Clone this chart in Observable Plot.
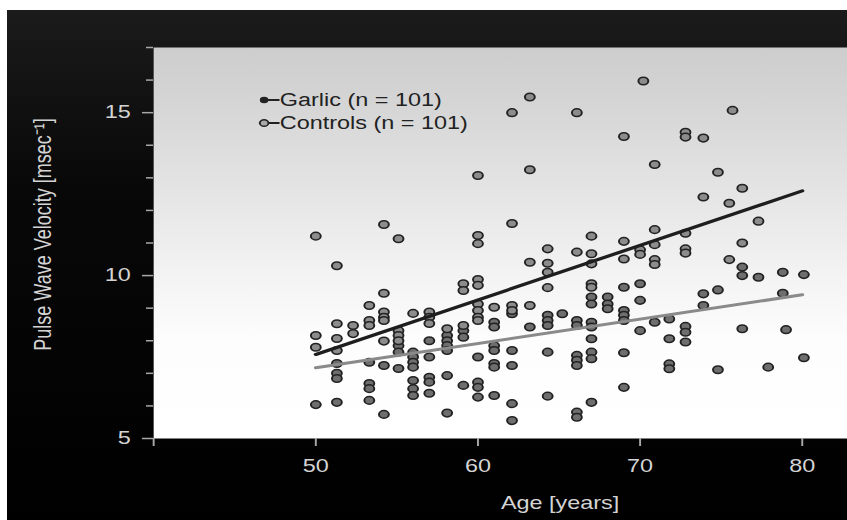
<!DOCTYPE html>
<html><head><meta charset="utf-8">
<script src="https://cdn.jsdelivr.net/npm/d3@7"></script>
<script src="https://cdn.jsdelivr.net/npm/@observablehq/plot@0.6"></script>
<style>
html,body{margin:0;padding:0;background:#fff;}
#wrap{position:relative;width:847px;height:520px;overflow:hidden;background:#fff;}
#bg{position:absolute;left:7px;top:10px;right:0;bottom:0;background:linear-gradient(#1b1b1b,#080808 35%,#000);}
#stretch{position:absolute;left:0;top:0;width:651px;height:520px;transform:scaleX(1.3011);transform-origin:0 0;}
#legend{position:absolute;left:198px;top:89px;font:18px "Liberation Sans",Arial,sans-serif;color:#222;line-height:23px;white-space:nowrap;}
#legend svg{vertical-align:middle;margin-top:-3px;}
</style></head>
<body><div id="wrap"><div id="bg"></div><div id="stretch"><div id="chart"></div><div id="legend"></div></div></div>
<script>
// Data: [age (years), pulse wave velocity (m/sec)]
const garlic = [
  [50,6.04],
  [51.3,7.3],[51.3,7.0],[51.3,6.84],[51.3,6.11],
  [53.3,7.34],[53.3,6.69],[53.3,6.53],[53.3,6.17],
  [54.2,7.24],[54.2,5.74],
  [55.1,7.85],[55.1,7.65],[55.1,7.15],
  [56,7.65],[56,7.5],[56,7.34],[56,7.19],[56,6.78],[56,6.53],[56,6.32],
  [57,8.0],[57,7.5],[57,6.88],[57,6.73],[57,6.39],
  [58.1,8.16],[58.1,8.0],[58.1,7.85],[58.1,7.7],[58.1,6.93],[58.1,5.78],
  [59.1,8.31],[59.1,8.11],[59.1,6.63],
  [60,7.5],[60,6.73],[60,6.57],[60,6.27],
  [61,8.57],[61,8.42],[61,7.85],[61,7.7],[61,7.3],[61,7.19],[61,6.32],
  [62.1,8.83],[62.1,7.7],[62.1,7.24],[62.1,6.07],[62.1,5.55],
  [63.2,8.42],
  [64.3,8.78],[64.3,8.62],[64.3,8.47],[64.3,7.65],[64.3,6.3],
  [65.2,8.83],
  [66.1,8.62],[66.1,8.47],[66.1,7.55],[66.1,7.4],[66.1,7.24],[66.1,5.81],[66.1,5.65],
  [67,9.34],[67,9.13],[67,8.57],[67,8.42],[67,8.06],[67,7.65],[67,7.45],[67,6.11],
  [68,9.34],[68,9.13],[68,8.98],
  [69,9.64],[69,8.93],[69,8.78],[69,8.62],[69,7.63],[69,6.57],
  [70,9.75],[70,9.24],[70,8.31],
  [70.9,8.57],
  [71.8,8.67],[71.8,8.06],[71.8,7.29],[71.8,7.14],
  [72.8,8.44],[72.8,8.26],[72.8,7.96],
  [73.9,9.44],[73.9,9.08],
  [74.8,9.56],[74.8,7.11],
  [76.3,10.26],[76.3,10.0],[76.3,8.37],
  [77.3,9.95],
  [77.9,7.19],
  [78.8,10.1],[78.8,9.46],
  [79,8.34],
  [80.1,10.03],[80.1,7.48]
];
const controls = [
  [50,11.21],[50,8.16],[50,7.8],
  [51.3,10.3],[51.3,8.52],[51.3,8.07],[51.3,7.7],
  [52.3,8.47],[52.3,8.22],
  [53.3,9.08],[53.3,8.62],[53.3,8.47],
  [54.2,11.57],[54.2,9.46],[54.2,8.88],[54.2,8.72],[54.2,8.62],[54.2,7.99],
  [55.1,11.13],[55.1,8.31],[55.1,8.16],[55.1,8.0],
  [56,8.84],
  [57,8.88],[57,8.72],[57,8.53],
  [58.1,8.37],
  [59.1,9.75],[59.1,9.54],[59.1,8.47],
  [60,13.07],[60,11.23],[60,10.98],[60,9.88],[60,9.7],[60,9.13],[60,8.93],[60,8.72],[60,8.62],
  [61,9.03],
  [62.1,15.0],[62.1,11.6],[62.1,9.08],[62.1,8.93],
  [63.2,15.48],[63.2,13.25],[63.2,10.41],[63.2,9.08],
  [64.3,10.82],[64.3,10.38],[64.3,10.1],[64.3,9.63],
  [66.1,15.0],[66.1,10.72],
  [67,11.21],[67,10.67],[67,10.36],[67,9.75],[67,9.64],
  [69,14.27],[69,11.05],[69,10.51],
  [70,10.79],[70,10.65],[70.2,15.97],
  [70.9,13.41],[70.9,11.41],[70.9,10.95],[70.9,10.49],[70.9,10.34],
  [72.8,14.4],[72.8,14.25],[72.8,11.3],[72.8,10.82],[72.8,10.69],
  [73.9,14.22],[73.9,12.41],
  [74.8,13.17],
  [75.5,12.22],[75.5,10.49],[75.7,15.07],
  [76.3,12.68],[76.3,11.0],
  [77.3,11.67]
];
// Regression lines (end points)
const garlicFit = [[50, 7.17], [80, 9.41]];
const controlsFit = [[50, 7.58], [80, 12.6]];
// Axes
const xTicks = [50, 60, 70, 80];
const xMinor = [40];
const yTicks = [5, 10, 15];
const yMinor = [6, 7, 8, 9, 11, 12, 13, 14, 16, 17];
const xLabel = "Age [years]";
const yLabel = "Pulse Wave Velocity [msec\u207B\u00B9]";
const legendLabels = ["Garlic (n = 101)", "Controls (n = 101)"];

const SVGNS = "http://www.w3.org/2000/svg";
function gradientDefs() {
  const defs = document.createElementNS(SVGNS, "defs");
  defs.innerHTML = `<linearGradient id="panelGrad" x1="0" y1="0" x2="0" y2="1">
    <stop offset="0" stop-color="#cdcdcd"/>
    <stop offset="0.14" stop-color="#d5d5d5"/>
    <stop offset="0.39" stop-color="#e6e6e6"/>
    <stop offset="0.58" stop-color="#f3f3f3"/>
    <stop offset="0.75" stop-color="#fdfdfd"/>
    <stop offset="1" stop-color="#ffffff"/>
  </linearGradient>`;
  return defs;
}

const ink = "#d4d4d4";
const tickInk = "#a8a8a8";

const chart = Plot.plot({
  width: 651,
  height: 520,
  marginLeft: 117.6,
  marginRight: 0,
  marginTop: 47,
  marginBottom: 82,
  x: {domain: [40, 82.8]},
  y: {domain: [5, 17]},
  style: {background: "transparent", fontSize: "18px", fontFamily: "'Liberation Sans', Arial, Helvetica, sans-serif", overflow: "visible"},
  marks: [
    gradientDefs,
    Plot.frame({fill: "url(#panelGrad)", stroke: "none"}),
    Plot.axisY(yTicks, {tickSize: 8.5, tickPadding: 9, color: ink, stroke: tickInk, strokeWidth: 1.5, label: null}),
    Plot.axisY(yMinor, {tickSize: 5.4, tickFormat: () => "", stroke: tickInk, strokeWidth: 1.5, label: null}),
    Plot.axisX(xTicks, {tickSize: 8, tickPadding: 13, color: ink, stroke: tickInk, strokeWidth: 1.5, label: null}),
    Plot.axisX(xMinor, {tickSize: 8, tickFormat: () => "", stroke: tickInk, strokeWidth: 1.5, label: null}),
    Plot.text([yLabel], {frameAnchor: "left", textAnchor: "middle", lineAnchor: "middle", rotate: -90, dx: -85, dy: -8.5, fill: ink, fontSize: 18}),
    Plot.text([xLabel], {frameAnchor: "bottom", textAnchor: "middle", lineAnchor: "middle", dx: 45.7, dy: 65, fill: ink, fontSize: 18}),
    Plot.dot(garlic, {x: d => d[0], y: d => d[1], r: 3.8, fill: "#6e6e6e", stroke: "#222", strokeWidth: 1.5}),
    Plot.dot(controls, {x: d => d[0], y: d => d[1], r: 3.8, fill: "#8c8c8c", stroke: "#222", strokeWidth: 1.5}),
    Plot.line(garlicFit, {x: d => d[0], y: d => d[1], stroke: "#8a8a8a", strokeWidth: 3}),
    Plot.line(controlsFit, {x: d => d[0], y: d => d[1], stroke: "#1e1e1e", strokeWidth: 3.2})
  ]
});
document.getElementById("chart").appendChild(chart);

// Legend
const symbols = [
  `<svg width="17" height="12" viewBox="0 0 17 12"><line x1="3" x2="17" y1="6" y2="6" stroke="#222" stroke-width="1.8"/><circle cx="5" cy="6" r="3.3" fill="#222"/></svg>`,
  `<svg width="17" height="12" viewBox="0 0 17 12"><line x1="1" x2="17" y1="6" y2="6" stroke="#222" stroke-width="1.8"/><circle cx="5" cy="6" r="3.3" fill="#aaa" stroke="#222" stroke-width="1.4"/></svg>`
];
document.getElementById("legend").innerHTML = legendLabels
  .map((t, i) => `<div>${symbols[i]}${t}</div>`).join("");
</script>
</body></html>
